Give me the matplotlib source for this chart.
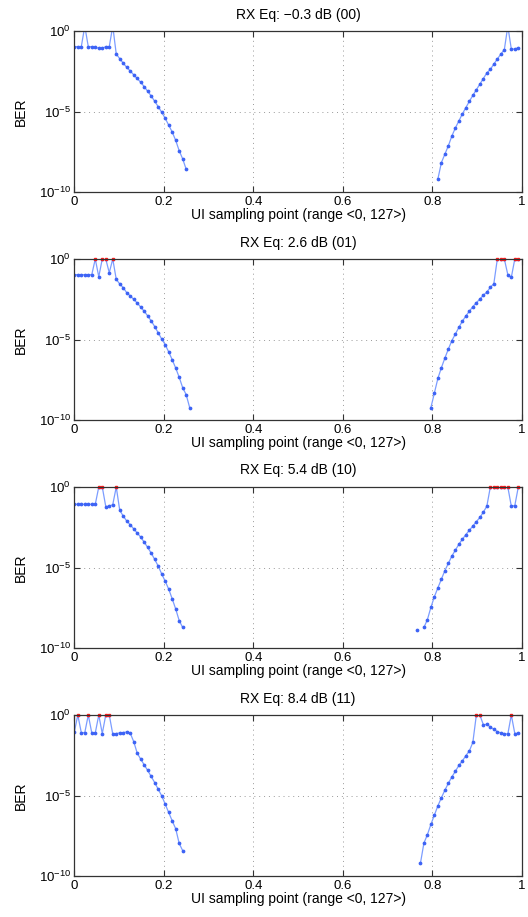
"""BER bathtub curves for the four RX equalizer settings."""

import matplotlib

matplotlib.use("Agg")
import matplotlib.pyplot as plt
import numpy as np
from matplotlib.ticker import FixedLocator, NullLocator

plt.rcParams["font.family"] = ["Liberation Sans", "DejaVu Sans"]

# UI sampling points 0..127, plotted as index / 128
n_points = 128

titles = [
    "RX Eq: \u22120.3 dB (00)",
    "RX Eq: 2.6 dB (01)",
    "RX Eq: 5.4 dB (10)",
    "RX Eq: 8.4 dB (11)",
]

# log10(BER); 0 means BER = 1 (red), > 0 runs off the top
eq00_left_start = 0
eq00_left = [-0.97, -0.97, -0.97, 0.3, -0.97, -0.97, -1.01, -1.07, -1.07, -0.97,
             -0.97, 0.3, -1.43, -1.71, -2.00, -2.25, -2.48, -2.71, -2.93, -3.18,
             -3.45, -3.74, -4.03, -4.36, -4.69, -5.04, -5.41, -5.83, -6.26, -6.78,
             -7.42, -7.93, -8.57]
eq00_right_start = 104
eq00_right = [-9.17, -8.16, -7.64, -7.11, -6.51, -6.01, -5.58, -5.14, -4.75, -4.36,
              -3.99, -3.64, -3.29, -2.95, -2.60, -2.38, -2.05, -1.74, -1.43, -1.16,
              0.3, -1.12, -1.12, -1.03]

eq01_left_start = 0
eq01_left = [-0.97, -0.97, -0.97, -0.97, -0.97, -0.97, 0.0, -1.10, 0.0, 0.0,
             -0.85, 0.0, -1.26, -1.55, -1.78, -2.09, -2.29, -2.50, -2.73, -2.98,
             -3.24, -3.53, -3.84, -4.19, -4.57, -4.96, -5.31, -5.76, -6.24, -6.76,
             -7.33, -7.98, -8.41, -9.21]
eq01_right_start = 102
eq01_right = [-9.21, -8.29, -7.40, -6.74, -6.14, -5.58, -5.06, -4.65, -4.24, -3.86,
              -3.53, -3.24, -2.95, -2.71, -2.48, -2.25, -2.05, -1.76, -1.53, 0.0,
              0.0, 0.0, -0.97, -1.14, 0.0, 0.0]

eq10_left_start = 0
eq10_left = [-1.07, -1.07, -1.07, -1.07, -1.07, -1.07, -1.07, 0.0, 0.0, -1.21,
             -1.19, -1.09, 0.0, -1.45, -1.80, -2.11, -2.34, -2.60, -2.85, -3.11,
             -3.42, -3.75, -4.10, -4.49, -4.90, -5.39, -5.84, -6.33, -6.93, -7.56,
             -8.28, -8.71]
eq10_right_start = 98
eq10_right = [-8.87, np.nan, -8.71, -8.22, -7.46, -6.80, -6.25, -5.72, -5.18, -4.73,
              -4.28, -3.91, -3.55, -3.24, -2.95, -2.68, -2.42, -2.15, -1.89, -1.56,
              -1.19, 0.0, 0.0, 0.0, 0.0, 0.0, 0.0, -1.19, -1.15, 0.0]

eq11_left_start = 0
eq11_left = [-1.07, 0.0, -1.09, -1.09, 0.0, -1.11, -1.11, 0.0, -1.15, 0.0,
             0.0, -1.18, -1.15, -1.11, -1.09, -1.05, -1.13, -1.65, -2.37, -2.74,
             -3.09, -3.44, -3.81, -4.19, -4.60, -5.01, -5.53, -6.04, -6.56, -7.05,
             -7.96, -8.41]
eq11_right_start = 99
eq11_right = [-9.20, -7.94, -7.42, -6.78, -6.21, -5.63, -5.13, -4.66, -4.23, -3.84,
              -3.49, -3.13, -2.85, -2.52, -2.23, -1.69, 0.0, 0.0, -0.60, -0.58,
              -0.74, -0.89, -1.03, -1.11, -1.15, -1.18, 0.0, -1.15, -1.13]

panels = [
    (eq00_left_start, eq00_left, eq00_right_start, eq00_right),
    (eq01_left_start, eq01_left, eq01_right_start, eq01_right),
    (eq10_left_start, eq10_left, eq10_right_start, eq10_right),
    (eq11_left_start, eq11_left, eq11_right_start, eq11_right),
]


def build_curve(left_start, left, right_start, right):
    """Put both bathtub walls into one 128 point log10(BER) array."""
    curve = np.full(n_points, np.nan)
    curve[left_start:left_start + len(left)] = left
    curve[right_start:right_start + len(right)] = right
    return curve


fig = plt.figure(figsize=(5.28, 9.17), dpi=100)
W, H = 528.0, 917.0
x = np.arange(n_points) / n_points

for k, (title, panel) in enumerate(zip(titles, panels)):
    top = 31 + 228 * k
    ax = fig.add_axes([74.3 / W, 1 - (top + 161.3) / H, 447.5 / W, 161.3 / H])

    log_ber = build_curve(*panel)
    ber = 10.0 ** log_ber
    ax.semilogy(x, ber, color="#7c9dff", linewidth=0.9, marker="o",
                markersize=1.7, markerfacecolor="#3d63f5",
                markeredgecolor="#3d63f5")
    closed = log_ber == 0
    ax.plot(x[closed], ber[closed], linestyle="none", marker="s",
            markersize=1.8, color="#ff1a1a", clip_on=False)

    ax.set_xlim(0, 1)
    ax.set_ylim(1e-10, 1)
    ax.xaxis.set_major_locator(FixedLocator([0, 0.2, 0.4, 0.6, 0.8, 1]))
    ax.set_xticklabels(["0", "0.2", "0.4", "0.6", "0.8", "1"])
    ax.yaxis.set_major_locator(FixedLocator([1e-10, 1e-5, 1]))
    ax.yaxis.set_minor_locator(NullLocator())
    ax.tick_params(direction="in", top=True, right=True, length=4,
                   width=0.8, labelsize=9.5, color="#333333", pad=2.5)
    ax.grid(True, linestyle=(0, (1, 4)), color="#999999", linewidth=0.7)
    for spine in ax.spines.values():
        spine.set_color("#333333")
        spine.set_linewidth(0.9)

    ax.set_title(title, fontsize=10, pad=9)
    ax.set_xlabel("UI sampling point (range <0, 127>)", fontsize=10, labelpad=0)
    ax.set_ylabel("BER", fontsize=10, labelpad=8)

plt.savefig("out.png", dpi=100)
